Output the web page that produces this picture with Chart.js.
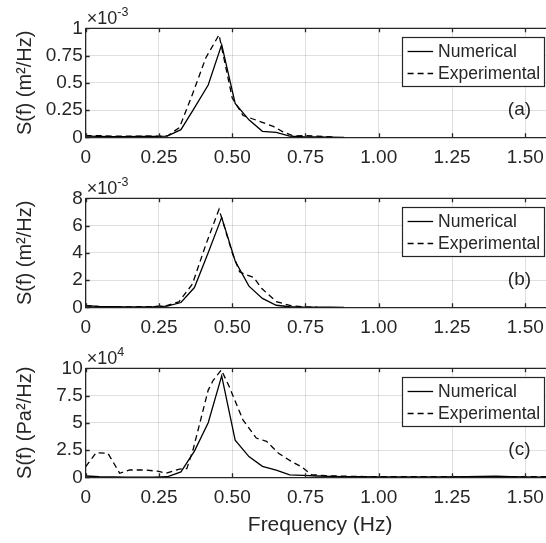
<!DOCTYPE html>
<html>
<head>
<meta charset="utf-8">
<script src="https://cdn.jsdelivr.net/npm/chart.js@4.4.1/dist/chart.umd.min.js"></script>
<style>
  body { margin: 0; width: 546px; height: 543px; overflow: hidden; background: #fff; position: relative; }
  canvas { position: absolute; left: 0; }
</style>
</head>
<body>
<canvas id="pa" width="560" height="170" style="top:0px"></canvas>
<canvas id="pb" width="560" height="170" style="top:170px"></canvas>
<canvas id="pc" width="560" height="203" style="top:340px"></canvas>
<script>
// frequency ticks shared by the three panels
var xTicks = [0, 0.25, 0.5, 0.75, 1.0, 1.25, 1.5];

// numerical model frequency grid (Hz)
var fNum = [0, 0.046, 0.093, 0.139, 0.186, 0.232, 0.278, 0.325, 0.371, 0.418, 0.464, 0.510, 0.557, 0.603, 0.650, 0.696, 0.742, 0.789, 0.835, 0.882];
var fNumC = [0, 0.046, 0.093, 0.139, 0.186, 0.232, 0.278, 0.325, 0.371, 0.418, 0.464, 0.510, 0.557, 0.603, 0.650, 0.696, 0.742, 0.789, 0.835, 0.882, 0.928, 1.0, 1.1, 1.2, 1.3, 1.4, 1.45, 1.5, 1.6];

// (a) x 1e-3 m^2/Hz
var yTicksA = [0, 0.25, 0.5, 0.75, 1];
var numA = [0.01, 0.008, 0.005, 0.006, 0.008, 0.008, 0.01, 0.07, 0.27, 0.48, 0.85, 0.31, 0.16, 0.055, 0.045, 0.01, 0.005, 0.004, 0.002, 0];
var fExpA = [0, 0.05, 0.1, 0.15, 0.2, 0.25, 0.28, 0.32, 0.365, 0.41, 0.455, 0.5, 0.537, 0.6, 0.64, 0.673, 0.708, 0.75, 0.79, 0.85];
var expA = [0.015, 0.015, 0.01, 0.01, 0.012, 0.01, 0.015, 0.09, 0.4, 0.73, 0.94, 0.36, 0.2, 0.14, 0.1, 0.05, 0.012, 0.015, 0.01, 0.003];

// (b) x 1e-3 m^2/Hz
var yTicksB = [0, 2, 4, 6, 8];
var numB = [0.12, 0.06, 0.04, 0.03, 0.03, 0.04, 0.08, 0.35, 1.45, 4.0, 6.6, 3.4, 1.55, 0.65, 0.15, 0.04, 0.02, 0.01, 0.005, 0];
var fExpB = [0, 0.045, 0.09, 0.136, 0.182, 0.227, 0.273, 0.318, 0.364, 0.41, 0.455, 0.5, 0.525, 0.545, 0.573, 0.6, 0.65, 0.7, 0.745, 0.79];
var expB = [0.1, 0.05, 0.03, 0.03, 0.04, 0.05, 0.1, 0.4, 1.7, 4.6, 7.2, 4.0, 2.6, 2.4, 2.2, 1.4, 0.42, 0.12, 0.03, 0.01];

// (c) x 1e4 Pa^2/Hz
var yTicksC = [0, 2.5, 5, 7.5, 10];
var numC = [0.12, 0.05, 0.03, 0.02, 0.02, 0.02, 0.05, 0.5, 2.4, 5.0, 9.3, 3.4, 1.9, 1.0, 0.65, 0.22, 0.18, 0.12, 0.08, 0.06, 0.05, 0.04, 0.03, 0.04, 0.06, 0.1, 0.06, 0.03, 0.02];
var fExpC = [0, 0.036, 0.076, 0.116, 0.15, 0.2, 0.25, 0.275, 0.32, 0.345, 0.366, 0.418, 0.435, 0.463, 0.49, 0.537, 0.582, 0.617, 0.658, 0.702, 0.736, 0.77, 0.82, 0.88, 0.95, 1.0, 1.1, 1.2, 1.3, 1.4, 1.5, 1.6];
var expC = [0.97, 2.26, 2.2, 0.37, 0.67, 0.67, 0.55, 0.37, 0.75, 0.8, 2.5, 8.0, 8.9, 9.85, 8.3, 5.25, 3.6, 3.3, 2.2, 1.45, 0.97, 0.25, 0.15, 0.1, 0.07, 0.05, 0.05, 0.06, 0.07, 0.07, 0.05, 0.05];

var FONT = '"Liberation Sans", Arial, sans-serif';
var INK = '#262626';
var GRID = 'rgba(38,38,38,0.15)';

function pts(xs, ys) {
  return xs.map(function (x, i) { return { x: x, y: ys[i] }; });
}

// box top, inward ticks, exponent, panel tag and legend
var frame = {
  id: 'frame',
  afterDraw: function (chart, args, o) {
    var c = chart.ctx, a = chart.chartArea;
    var xs = chart.scales.x, ys = chart.scales.y;
    c.save();
    c.strokeStyle = INK;
    c.lineWidth = 1.3;
    c.beginPath();
    c.moveTo(a.left, a.top); c.lineTo(a.right, a.top);
    xs.ticks.forEach(function (t) {
      var px = Math.round(xs.getPixelForValue(t.value)) + 0.5;
      c.moveTo(px, a.bottom); c.lineTo(px, a.bottom - 4);
      c.moveTo(px, a.top); c.lineTo(px, a.top + 4);
    });
    ys.ticks.forEach(function (t) {
      var py = Math.round(ys.getPixelForValue(t.value)) + 0.5;
      c.moveTo(a.left, py); c.lineTo(a.left + 4, py);
    });
    c.stroke();

    // exponent above the y axis
    c.fillStyle = INK;
    c.textAlign = 'left';
    c.textBaseline = 'alphabetic';
    c.font = '18px ' + FONT;
    c.fillText('\u00d710', a.left + 1, a.top - 4);
    var w = c.measureText('\u00d710').width;
    c.font = '12.5px ' + FONT;
    c.fillText(o.exp, a.left + 1 + w, a.top - 12.5);

    // panel tag
    c.font = '19px ' + FONT;
    c.textAlign = 'center';
    c.textBaseline = 'middle';
    c.fillText(o.tag, xs.getPixelForValue(1.48), ys.getPixelForValue(ys.max * 0.25));

    // legend box
    var bw = 142, bh = 49;
    var bx = a.right - 10.5 - bw, by = a.top + 8.5;
    c.fillStyle = '#fff';
    c.fillRect(bx, by, bw, bh);
    c.lineWidth = 1.2;
    c.strokeRect(Math.round(bx) + 0.5, Math.round(by) + 0.5, bw, bh);
    c.font = '17.5px ' + FONT;
    c.textAlign = 'left';
    chart.data.datasets.forEach(function (ds, i) {
      var ry = Math.round(by + 14 + i * 22) + 0.5;
      c.strokeStyle = ds.borderColor;
      c.lineWidth = ds.borderWidth;
      c.setLineDash(ds.borderDash || []);
      c.beginPath();
      c.moveTo(bx + 5.5, ry); c.lineTo(bx + 31, ry);
      c.stroke();
      c.setLineDash([]);
      c.fillStyle = INK;
      c.fillText(ds.label, bx + 36, ry + 1);
    });
    c.restore();
  }
};

function makePanel(id, numX, numY, expX, expY, yTicks, yTitle, exp, tag, xTitle) {
  var ctx = document.getElementById(id).getContext('2d');
  var bottomH = xTitle ? 65.7 : 32.7;
  return new Chart(ctx, {
    type: 'line',
    data: {
      datasets: [{
        label: 'Numerical',
        data: pts(numX, numY),
        borderColor: '#000',
        borderWidth: 1.3,
        pointRadius: 0,
        tension: 0,
        fill: false
      }, {
        label: 'Experimental',
        data: pts(expX, expY),
        borderColor: '#000',
        borderWidth: 1.3,
        borderDash: [6, 4],
        pointRadius: 0,
        tension: 0,
        fill: false
      }]
    },
    options: {
      responsive: false,
      animation: false,
      layout: { padding: { top: 28.3, right: 5.4, left: 0, bottom: 0 } },
      plugins: {
        legend: { display: false },
        tooltip: { enabled: false },
        frame: { exp: exp, tag: tag }
      },
      scales: {
        x: {
          type: 'linear',
          min: 0,
          max: 1.6,
          afterBuildTicks: function (s) { s.ticks = xTicks.map(function (v) { return { value: v }; }); },
          afterFit: function (s) { s.height = bottomH; },
          ticks: {
            color: INK,
            font: { family: FONT, size: 19 },
            padding: 9,
            maxRotation: 0,
            callback: function (v) { return v === 0 ? '0' : v.toFixed(2); }
          },
          grid: { color: GRID, drawTicks: false },
          border: { color: INK, width: 1.3 },
          title: {
            display: !!xTitle,
            text: xTitle || '',
            color: INK,
            font: { family: FONT, size: 21 },
            padding: { top: 2, bottom: 5.4 }
          }
        },
        y: {
          min: 0,
          max: yTicks[yTicks.length - 1],
          afterBuildTicks: function (s) { s.ticks = yTicks.map(function (v) { return { value: v }; }); },
          afterFit: function (s) { s.width = 85.7; },
          ticks: {
            color: INK,
            font: { family: FONT, size: 19 },
            padding: 3,
            callback: function (v) { return String(v); }
          },
          grid: { color: GRID, drawTicks: false },
          border: { color: INK, width: 1.3 },
          title: {
            display: true,
            text: yTitle,
            color: INK,
            font: { family: FONT, size: 20 },
            padding: { top: 13, bottom: 0 }
          }
        }
      }
    },
    plugins: [frame]
  });
}

makePanel('pa', fNum, numA, fExpA, expA, yTicksA, 'S(f) (m\u00b2/Hz)', '-3', '(a)');
makePanel('pb', fNum, numB, fExpB, expB, yTicksB, 'S(f) (m\u00b2/Hz)', '-3', '(b)');
makePanel('pc', fNumC, numC, fExpC, expC, yTicksC, 'S(f) (Pa\u00b2/Hz)', '4', '(c)', 'Frequency (Hz)');
</script>
</body>
</html>
